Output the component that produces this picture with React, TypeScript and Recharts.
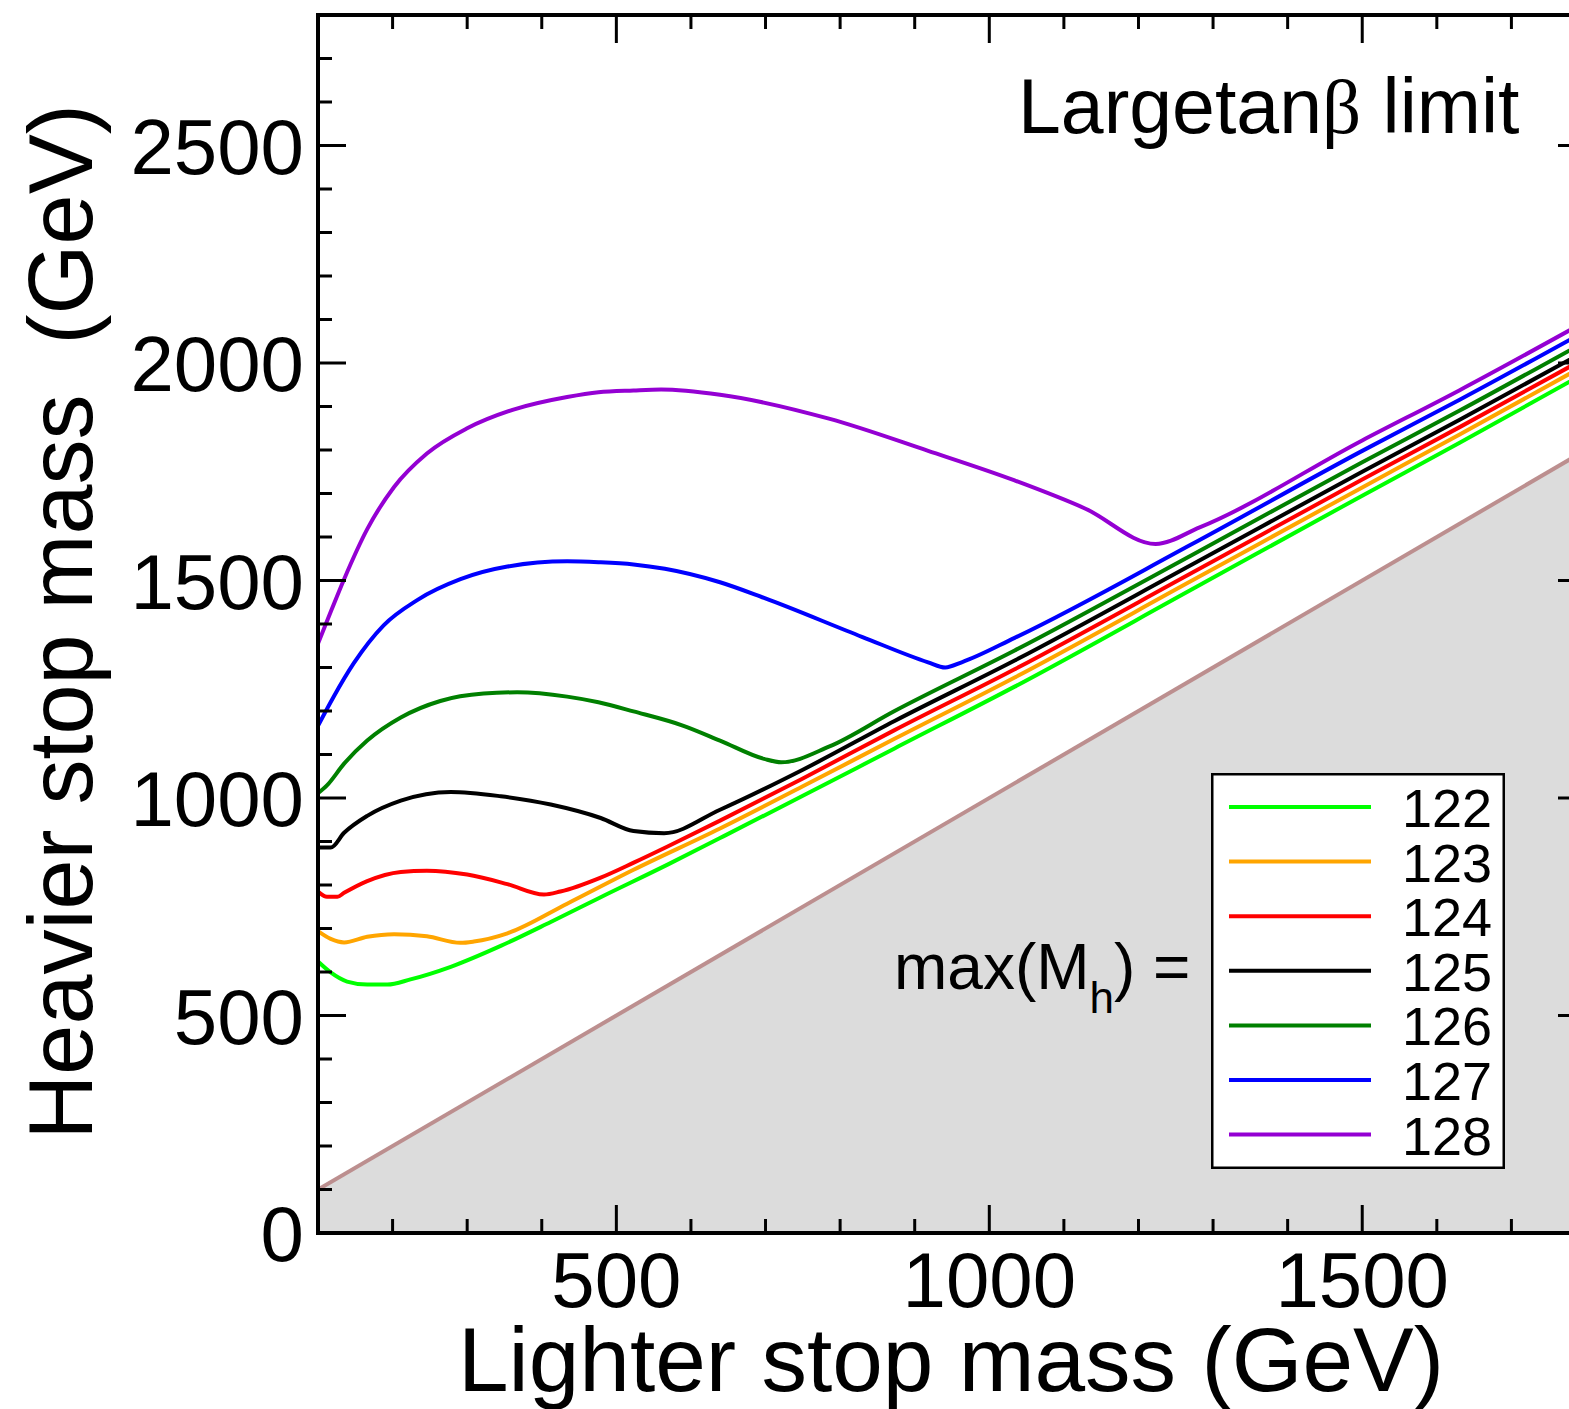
import React from "react";
import { ComposedChart, Line, Area, XAxis, YAxis, Legend } from "recharts";

const FONT = '"Liberation Sans", Arial, Helvetica, sans-serif';

// tick positions (GeV)
const xTicks = [200, 300, 400, 500, 600, 700, 800, 900, 1000, 1100, 1200, 1300, 1400, 1500, 1600, 1700];
const yTicks = [0, 100, 200, 300, 400, 500, 600, 700, 800, 900, 1000, 1100, 1200, 1300, 1400, 1500, 1600, 1700, 1800, 1900, 2000, 2100, 2200, 2300, 2400, 2500, 2600, 2700];

// m_stop2 = m_stop1 line (excluded region below)
const diagonal = [[100, 100], [1800, 1800]];

// heavier stop mass vs lighter stop mass for fixed max(M_h)
const mh122 = [[100, 624], [117, 599], [139, 578], [166, 571], [193, 571], [224, 583], [278, 612], [345, 660], [412, 715], [479, 772], [570, 848], [639, 908], [750, 1005], [873, 1114], [1034, 1256], [1270, 1478], [1500, 1695], [1630, 1816], [1800, 1978]];
const mh123 = [[100, 694], [117, 676], [135, 668], [166, 681], [202, 687], [246, 682], [291, 667], [309, 670], [354, 689], [434, 757], [523, 835], [639, 930], [750, 1027], [873, 1136], [1034, 1277], [1270, 1498], [1500, 1714], [1630, 1835], [1800, 1996]];
const mh124 = [[100, 785], [112, 773], [126, 773], [135, 782], [166, 809], [211, 830], [246, 833], [300, 824], [354, 802], [403, 778], [425, 785], [479, 817], [524, 852], [568, 888], [639, 948], [750, 1045], [873, 1156], [1034, 1296], [1270, 1516], [1500, 1732], [1630, 1852], [1800, 2012]];
const mh125 = [[100, 886], [117, 886], [135, 920], [166, 959], [211, 994], [278, 1014], [345, 1004], [412, 985], [479, 954], [523, 924], [564, 919], [639, 973], [750, 1065], [873, 1177], [1034, 1316], [1270, 1535], [1500, 1750], [1630, 1869], [1800, 2028]];
const mh126 = [[100, 1011], [112, 1029], [135, 1079], [166, 1132], [211, 1185], [264, 1223], [322, 1240], [367, 1243], [434, 1233], [476, 1220], [523, 1199], [590, 1166], [639, 1132], [698, 1090], [721, 1082], [785, 1118], [873, 1200], [1034, 1339], [1270, 1557], [1500, 1772], [1630, 1890], [1800, 2050]];
const mh127 = [[100, 1166], [121, 1233], [148, 1310], [188, 1397], [233, 1455], [291, 1503], [354, 1532], [434, 1544], [476, 1542], [523, 1537], [565, 1527], [639, 1496], [698, 1460], [830, 1370], [918, 1312], [941, 1300], [963, 1312], [1034, 1368], [1270, 1582], [1500, 1798], [1630, 1915], [1800, 2074]];
const mh128 = [[100, 1355], [118, 1432], [135, 1503], [166, 1618], [202, 1715], [246, 1792], [300, 1850], [362, 1893], [434, 1922], [476, 1933], [523, 1937], [560, 1939], [639, 1927], [785, 1872], [918, 1798], [1034, 1730], [1129, 1665], [1223, 1584], [1282, 1622], [1500, 1822], [1630, 1937], [1800, 2096]];

const series = [
  { name: "122", color: "#00ff00", pts: mh122 },
  { name: "123", color: "#ffa500", pts: mh123 },
  { name: "124", color: "#ff0000", pts: mh124 },
  { name: "125", color: "#000000", pts: mh125 },
  { name: "126", color: "#008000", pts: mh126 },
  { name: "127", color: "#0000ff", pts: mh127 },
  { name: "128", color: "#9400d3", pts: mh128 },
];

const toRows = (pts: number[][]) => pts.map(([x, y]) => ({ x, y }));

const isMajor = (v: number) => v % 500 === 0;

const BottomTick = ({ x, y, payload }: any) => {
  const v = payload.value;
  return (
    <g>
      <line x1={x} x2={x} y1={y} y2={y - (isMajor(v) ? 28 : 14)} stroke="#000" strokeWidth={3} />
      {isMajor(v) && (
        <text x={x} y={y + 74} textAnchor="middle" fontSize={78} fontFamily={FONT} fill="#000">
          {v}
        </text>
      )}
    </g>
  );
};

const TopTick = ({ x, y, payload }: any) => (
  <line x1={x} x2={x} y1={y} y2={y + (isMajor(payload.value) ? 28 : 14)} stroke="#000" strokeWidth={3} />
);

const LeftTick = ({ x, y, payload }: any) => {
  const v = payload.value;
  return (
    <g>
      {v !== 0 && <line x1={x} x2={x + (isMajor(v) ? 28 : 14)} y1={y} y2={y} stroke="#000" strokeWidth={3} />}
      {isMajor(v) && (
        <text x={x - 14} y={y + 28} textAnchor="end" fontSize={78} fontFamily={FONT} fill="#000">
          {v}
        </text>
      )}
    </g>
  );
};

const RightTick = ({ x, y, payload }: any) =>
  payload.value === 0 ? <g /> : (
    <line x1={x} x2={x - (isMajor(payload.value) ? 28 : 14)} y1={y} y2={y} stroke="#000" strokeWidth={3} />
  );

const LegendBox = ({ payload }: any) => {
  const items = (payload || []).filter((p: any) => p.type !== "none");
  return (
    <svg width={294} height={396} style={{ display: "block" }}>
      <rect x={1.25} y={1.25} width={291.5} height={393.5} fill="#fff" stroke="#000" strokeWidth={2.5} />
      {items.map((p: any, i: number) => {
        const cy = 34 + i * 54.6;
        return (
          <g key={p.value}>
            <line x1={18} x2={160} y1={cy} y2={cy} stroke={p.color} strokeWidth={4} />
            <text x={281} y={cy + 20} textAnchor="end" fontSize={54} fontFamily={FONT} fill="#000">
              {p.value}
            </text>
          </g>
        );
      })}
    </svg>
  );
};

const axisLine = { stroke: "#000", strokeWidth: 4, strokeLinecap: "square" as const };

export default function App() {
  return (
    <div style={{ position: "relative", width: 1569, height: 1409, overflow: "hidden", background: "#fff" }}>
      <style>{"body{margin:0}"}</style>
      <ComposedChart width={1600} height={1409} margin={{ top: 14, right: 13, bottom: 175, left: 317 }}>
        <XAxis xAxisId="b" dataKey="x" type="number" domain={[100, 1800]} allowDataOverflow ticks={xTicks} interval={0}
          height={1} tickSize={0} tickMargin={0} tickLine={false} axisLine={axisLine} tick={<BottomTick />} />
        <XAxis xAxisId="t" dataKey="x" type="number" orientation="top" domain={[100, 1800]} allowDataOverflow ticks={xTicks} interval={0}
          height={1} tickSize={0} tickMargin={0} tickLine={false} axisLine={axisLine} tick={<TopTick />} />
        <YAxis yAxisId="l" type="number" domain={[0, 2800]} allowDataOverflow ticks={yTicks} interval={0}
          width={1} tickSize={0} tickMargin={0} tickLine={false} axisLine={axisLine} tick={<LeftTick />} />
        <YAxis yAxisId="r" type="number" orientation="right" domain={[0, 2800]} allowDataOverflow ticks={yTicks} interval={0}
          width={1} tickSize={0} tickMargin={0} tickLine={false} axisLine={axisLine} tick={<RightTick />} />
        <Area xAxisId="t" yAxisId="r" data={toRows(diagonal)} dataKey="y" type="linear" fill="#dcdcdc" fillOpacity={1}
          stroke="#bc8f8f" strokeWidth={4} legendType="none" isAnimationActive={false} />
        {series.map((s) => (
          <Line key={s.name} xAxisId="b" yAxisId="l" data={toRows(s.pts)} dataKey="y" name={s.name} type="monotone"
            stroke={s.color} strokeWidth={4} dot={false} activeDot={false} isAnimationActive={false} />
        ))}
        <Legend layout="horizontal" verticalAlign="middle" align="center" content={<LegendBox />}
          wrapperStyle={{ position: "absolute", left: 1211, top: 773, width: 294, height: 396 }} />
      </ComposedChart>
      <svg width={1569} height={1409} style={{ position: "absolute", left: 0, top: 0, pointerEvents: "none" }}>
        <text x={1018} y={133} fontSize={77} fontFamily={FONT} fill="#000">
          Largetan<tspan fontFamily='"Liberation Serif", "DejaVu Serif", serif'>β</tspan> limit
        </text>
        <text x={894} y={989} fontSize={64} fontFamily={FONT} fill="#000">
          max(M<tspan fontSize={44} dy={24}>h</tspan><tspan dy={-24}>) =</tspan>
        </text>
        <text x={951} y={1391} fontSize={91} textAnchor="middle" fontFamily={FONT} fill="#000">
          Lighter stop mass (GeV)
        </text>
        <text x={92} y={622} fontSize={90} textAnchor="middle" fontFamily={FONT} fill="#000"
          transform="rotate(-90 92 622)" style={{ whiteSpace: "pre" }}>
          {"Heavier stop mass  (GeV)"}
        </text>
      </svg>
    </div>
  );
}
